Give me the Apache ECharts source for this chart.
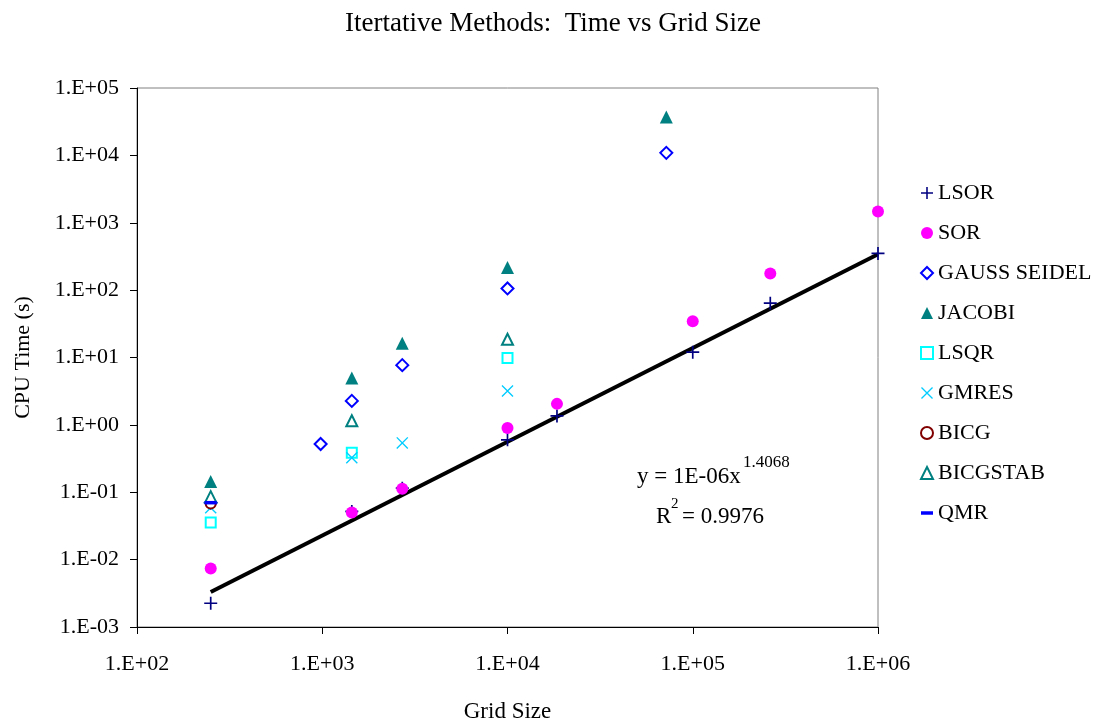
<!DOCTYPE html>
<html>
<head>
<meta charset="utf-8">
<script src="https://cdn.jsdelivr.net/npm/echarts@6/dist/echarts.min.js"></script>
<style>
  html, body { margin: 0; padding: 0; background: #fff; }
  #chart { width: 1106px; height: 728px; }
</style>
</head>
<body>
<div id="chart"></div>
<script>
const FONT = "'Liberation Serif', 'Times New Roman', serif";

// grid sizes and CPU times (s)
const lsorX = [250, 1444, 2704, 10000, 18496, 100000, 262144, 1000000];
const lsorY = [0.00225, 0.052, 0.115, 0.60, 1.36, 12.0, 64, 350];

const sorX = [250, 1444, 2704, 10000, 18496, 100000, 262144, 1000000];
const sorY = [0.0074, 0.050, 0.113, 0.90, 2.05, 34.5, 177, 1465];

const gaussX = [250, 980, 1444, 2704, 10000, 72000];
const gaussY = [0.070, 0.52, 2.27, 7.7, 106, 10900];

const jacobiX = [250, 1444, 2704, 10000, 72000];
const jacobiY = [0.145, 4.96, 16.3, 217, 37200];

const lsqrX = [250, 1444, 10000];
const lsqrY = [0.0355, 0.385, 9.8];

const gmresX = [250, 1444, 2704, 10000];
const gmresY = [0.059, 0.325, 0.54, 3.18];

const bicgX = [250];
const bicgY = [0.068];

const bicgstabX = [250, 1444, 10000];
const bicgstabY = [0.086, 1.15, 18.7];

const qmrX = [250];
const qmrY = [0.070];

// power trendline end points (y = 1E-06x^1.4068)
const trendX = [250, 1000000];
const trendY = [0.0033, 340];

const PLUS = 'path://M4.35,0h1.3v10h-1.3zM0,4.35h10v1.3h-10z';
const CROSS = 'path://M0,0.8L0.8,0L10,9.2L9.2,10zM9.2,0L10,0.8L0.8,10L0,9.2z';
const DASH = 'path://M0,0h12v3.5h-12z';

function pairs(xs, ys) {
  return xs.map((x, i) => [x, ys[i]]);
}

function sciLabel(v) {
  const e = Math.round(Math.log10(v));
  return '1.E' + (e < 0 ? '-' : '+') + String(Math.abs(e)).padStart(2, '0');
}

const seriesDefs = [
  { name: 'LSOR', xs: lsorX, ys: lsorY, symbol: PLUS, size: 13, color: '#000080', border: 0 },
  { name: 'SOR', xs: sorX, ys: sorY, symbol: 'circle', size: 12, color: '#ff00ff', border: 0 },
  { name: 'GAUSS SEIDEL', xs: gaussX, ys: gaussY, symbol: 'emptyDiamond', size: 12, color: '#0000ff', border: 1.5 },
  { name: 'JACOBI', xs: jacobiX, ys: jacobiY, symbol: 'triangle', size: 13, color: '#008080', border: 0 },
  { name: 'LSQR', xs: lsqrX, ys: lsqrY, symbol: 'emptyRect', size: 10, color: '#00ffff', border: 1.5 },
  { name: 'GMRES', xs: gmresX, ys: gmresY, symbol: CROSS, size: 12, color: '#00ccff', border: 0 },
  { name: 'BICG', xs: bicgX, ys: bicgY, symbol: 'emptyCircle', size: 10, color: '#800000', border: 1.5 },
  { name: 'BICGSTAB', xs: bicgstabX, ys: bicgstabY, symbol: 'emptyTriangle', size: 11, color: '#008080', border: 1.5 },
  { name: 'QMR', xs: qmrX, ys: qmrY, symbol: DASH, size: 12, color: '#0000ff', border: 0 }
];

const chart = echarts.init(document.getElementById('chart'), null, { renderer: 'canvas' });

const series = seriesDefs.map((s) => ({
  name: s.name,
  type: 'scatter',
  symbol: s.symbol,
  symbolSize: s.size,
  symbolKeepAspect: true,
  itemStyle: { color: s.color, borderColor: s.color, borderWidth: s.border, opacity: 1 },
  data: pairs(s.xs, s.ys),
  z: 3
}));

series.push({
  name: 'trend',
  type: 'line',
  data: pairs(trendX, trendY),
  symbol: 'none',
  lineStyle: { color: '#000', width: 4 },
  z: 2,
  silent: true
});

chart.setOption({
  animation: false,
  backgroundColor: '#fff',
  textStyle: { fontFamily: FONT, color: '#000' },
  title: {
    text: 'Itertative Methods:  Time vs Grid Size',
    left: 'center',
    top: 5,
    textStyle: { fontFamily: FONT, fontSize: 27, fontWeight: 'normal', color: '#000' }
  },
  grid: {
    left: 137,
    right: 228,
    top: 88,
    bottom: 99,
    show: true,
    borderColor: '#808080',
    borderWidth: 1
  },
  legend: {
    orient: 'vertical',
    left: 915,
    top: 177,
    itemWidth: 12,
    itemHeight: 12,
    itemGap: 18,
    data: seriesDefs.map((s) => s.name),
    textStyle: { fontFamily: FONT, fontSize: 22, color: '#000' }
  },
  xAxis: {
    type: 'log',
    logBase: 10,
    min: 100,
    max: 1000000,
    splitNumber: 4,
    name: 'Grid Size',
    nameLocation: 'middle',
    nameGap: 73,
    nameTextStyle: { fontFamily: FONT, fontSize: 23, color: '#000' },
    axisLine: { lineStyle: { color: '#000', width: 1 } },
    axisTick: { inside: false, length: 7, lineStyle: { color: '#000' } },
    axisLabel: { formatter: sciLabel, fontFamily: FONT, fontSize: 22, color: '#000', margin: 26 },
    splitLine: { show: false },
    minorTick: { show: false }
  },
  yAxis: {
    type: 'log',
    logBase: 10,
    min: 0.001,
    max: 100000,
    splitNumber: 8,
    name: 'CPU Time (s)',
    nameLocation: 'middle',
    nameGap: 103,
    nameTextStyle: { fontFamily: FONT, fontSize: 22, color: '#000' },
    axisLine: { lineStyle: { color: '#000', width: 1 } },
    axisTick: { inside: false, length: 7, lineStyle: { color: '#000' } },
    axisLabel: { formatter: sciLabel, fontFamily: FONT, fontSize: 22, color: '#000', margin: 18 },
    splitLine: { show: false }
  },
  graphic: [
    { type: 'text', left: 637, top: 465, style: { text: 'y = 1E-06x', font: '23px ' + FONT, fill: '#000' } },
    { type: 'text', left: 743, top: 454, style: { text: '1.4068', font: '17px ' + FONT, fill: '#000' } },
    { type: 'text', left: 656, top: 505, style: { text: 'R', font: '23px ' + FONT, fill: '#000' } },
    { type: 'text', left: 671, top: 497, style: { text: '2', font: '15px ' + FONT, fill: '#000' } },
    { type: 'text', left: 682, top: 505, style: { text: '= 0.9976', font: '23px ' + FONT, fill: '#000' } }
  ],
  series
});
</script>
</body>
</html>
